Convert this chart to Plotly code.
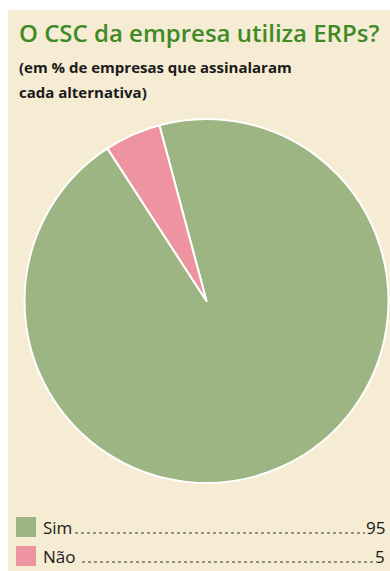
import plotly.graph_objects as go

# Survey answers (% of companies)
labels = ["Sim", "Não"]
values = [95, 5]
colors = ["#9db583", "#ee94a0"]

title_text = "O CSC da empresa utiliza ERPs?"
subtitle_lines = ["(em % de empresas que assinalaram", "cada alternativa)"]

W, H = 390, 571
BG = "#f6ebd3"
FONT = "Open Sans"


def px(x):
    return x / W


def py(y):
    return 1 - y / H


fig = go.Figure()

fig.add_trace(go.Pie(
    labels=labels,
    values=values,
    sort=False,
    direction="clockwise",
    rotation=-15,
    marker=dict(colors=colors, line=dict(color="#ffffff", width=2)),
    textinfo="none",
    hoverinfo="label+value",
    showlegend=False,
    domain=dict(x=[px(24), px(389)], y=[py(483), py(119)]),
))

shapes = [
    # beige panel
    dict(type="rect", xref="paper", yref="paper", layer="below",
         x0=px(8), x1=1.0, y0=0.0, y1=py(10),
         fillcolor=BG, line=dict(width=0)),
]

annotations = [
    dict(text=title_text, xref="paper", yref="paper",
         x=px(17), y=py(32), xanchor="left", yanchor="middle",
         showarrow=False,
         font=dict(family=FONT, size=24, weight=600, color="#3e8a27")),
]

sub_y = [67, 92]
for line, yy in zip(subtitle_lines, sub_y):
    annotations.append(dict(
        text=line, xref="paper", yref="paper",
        x=px(17), y=py(yy), xanchor="left", yanchor="middle",
        showarrow=False,
        font=dict(family=FONT, size=15, weight=700, color="#1a1a1a")))

# legend rows: swatch, label, dotted leader, value
row_y = [527, 556]
label_end = [75, 82]
for lab, val, col, yy, le in zip(labels, values, colors, row_y, label_end):
    shapes.append(dict(type="rect", xref="paper", yref="paper",
                       x0=px(16), x1=px(36), y0=py(yy + 10), y1=py(yy - 10),
                       fillcolor=col, line=dict(width=0)))
    annotations.append(dict(
        text=lab, xref="paper", yref="paper",
        x=px(41), y=py(yy), xanchor="left", yanchor="middle",
        showarrow=False,
        font=dict(family=FONT, size=17, color="#1a1a1a")))
    annotations.append(dict(
        text=str(val), xref="paper", yref="paper",
        x=px(387), y=py(yy), xanchor="right", yanchor="middle",
        showarrow=False,
        font=dict(family=FONT, size=17, color="#1a1a1a")))
    num_w = 10 * len(str(val))
    shapes.append(dict(type="line", xref="paper", yref="paper",
                       x0=px(le), x1=px(385 - num_w),
                       y0=py(yy + 6), y1=py(yy + 6),
                       line=dict(color="#333333", width=1, dash="dot")))

fig.update_layout(
    width=W, height=H,
    margin=dict(l=0, r=0, t=0, b=0),
    paper_bgcolor="#ffffff",
    plot_bgcolor="#ffffff",
    shapes=shapes,
    annotations=annotations,
)

fig.write_html("out.html")
